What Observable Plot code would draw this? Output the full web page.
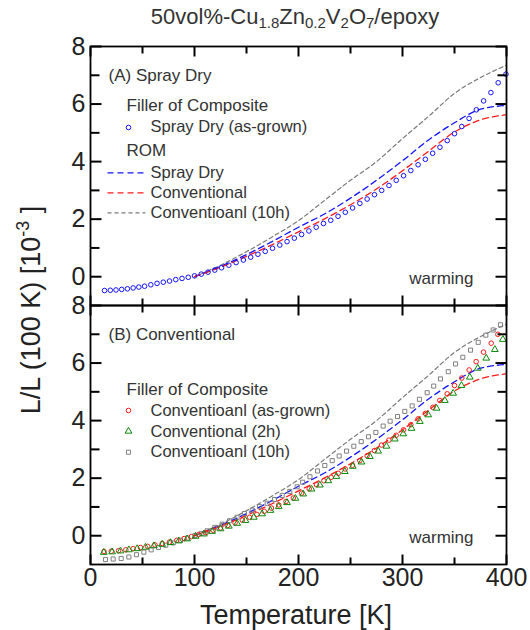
<!DOCTYPE html>
<html><head><meta charset="utf-8">
<script src="https://cdn.jsdelivr.net/npm/d3@7"></script>
<script src="https://cdn.jsdelivr.net/npm/@observablehq/plot@0.6"></script>
<style>body{margin:0;background:#fff} #chart{width:530px;height:630px}</style>
</head><body><div id="chart"></div>
<script>
// ---- data (T [K], ΔL/L(100K) [1e-3]) ----
const sprayDryAsGrown = [[13.5,-0.48],[19,-0.47],[24.5,-0.46],[30,-0.44],[35.5,-0.42],[41,-0.39],[46.5,-0.36],[52,-0.33],[58,-0.28],[64,-0.23],[70,-0.19],[76,-0.15],[82,-0.10],[88,-0.06],[94,-0.02],[100,0.03],[106.5,0.09],[113,0.16],[119.5,0.23],[126,0.31],[133,0.40],[140,0.49],[147,0.58],[154,0.68],[161,0.78],[168,0.88],[175,0.99],[182,1.10],[189,1.22],[196,1.34],[203,1.47],[210,1.59],[217,1.72],[224,1.85],[231,1.96],[238,2.10],[245,2.24],[252,2.39],[259,2.55],[266,2.70],[273,2.85],[280,3.00],[287,3.17],[294,3.35],[301,3.51],[308,3.69],[315,3.89],[322,4.08],[329,4.29],[336,4.50],[343,4.73],[350,4.97],[357,5.22],[364,5.50],[371,5.80],[378,6.11],[385,6.40],[392,6.74],[399.5,7.04]];
const convAsGrown = [[13,-0.55],[20,-0.54],[27,-0.52],[34,-0.49],[41,-0.45],[48,-0.41],[55,-0.37],[62,-0.32],[69,-0.27],[76,-0.22],[83,-0.16],[90,-0.10],[97,-0.03],[104,0.04],[111,0.11],[118,0.19],[125,0.27],[132,0.36],[139,0.45],[146,0.54],[153,0.64],[160,0.74],[167,0.85],[174,0.96],[181,1.07],[188,1.19],[195,1.31],[203,1.48],[210.3,1.63],[217.3,1.77],[224.4,1.91],[231.4,2.03],[238.2,2.17],[244.9,2.32],[251.9,2.45],[259,2.61],[266,2.78],[273,2.96],[279.8,3.15],[286.9,3.32],[293.9,3.49],[301,3.68],[308,3.86],[315,4.06],[322.1,4.25],[329.2,4.46],[335.9,4.70],[343,4.93],[350,5.22],[357,5.48],[364.1,5.76],[370.8,6.05],[377.9,6.38],[385.3,6.69],[391.7,7.00]];
const conv2h = [[12.8,-0.58],[20.8,-0.56],[28.8,-0.53],[36.9,-0.49],[44.9,-0.45],[52.9,-0.40],[60.9,-0.35],[68.9,-0.30],[76.9,-0.24],[84.9,-0.18],[92.9,-0.11],[101,-0.02],[109,0.06],[117,0.15],[125,0.24],[133,0.33],[141,0.43],[149,0.53],[157,0.64],[165,0.76],[173,0.88],[181,1.01],[189,1.15],[197,1.30],[204.5,1.45],[212.5,1.62],[220.5,1.76],[228.6,1.91],[236.5,2.06],[244.5,2.23],[252.2,2.41],[260.6,2.56],[268.6,2.75],[276.6,2.94],[284.6,3.11],[292.6,3.36],[300.7,3.54],[308.7,3.73],[316.7,3.97],[324.7,4.20],[332.7,4.43],[340.7,4.70],[348.7,4.95],[356.7,5.22],[364.7,5.51],[372.4,5.82],[380.5,6.17],[388.8,6.47],[396.5,6.82]];
const conv10h = [[14.4,-0.83],[21.8,-0.81],[29.5,-0.79],[36.9,-0.74],[44.2,-0.66],[51.3,-0.57],[58.3,-0.49],[65.4,-0.41],[72.4,-0.33],[79.5,-0.25],[86.5,-0.16],[93.5,-0.08],[100.5,0.01],[106.5,0.08],[112.2,0.17],[119.5,0.29],[126.6,0.40],[133.7,0.52],[141,0.64],[148,0.77],[155.5,0.89],[162.5,1.01],[169.9,1.13],[176.9,1.26],[184.3,1.40],[191.6,1.54],[198.7,1.70],[204,1.86],[211,2.05],[218.3,2.25],[225.3,2.44],[232.4,2.61],[239.1,2.77],[246.2,2.94],[253.2,3.11],[260.3,3.27],[267.3,3.44],[274.4,3.59],[281.4,3.81],[288.1,3.98],[295.2,4.14],[302.2,4.32],[309.3,4.51],[316.3,4.74],[323.7,4.97],[330,5.20],[336.5,5.45],[344,5.70],[351,5.97],[358,6.20],[365.4,6.45],[372.8,6.72],[380.1,6.97],[387.2,7.15],[394.2,7.33]];
const romT = [100,125,150,175,200,225,250,275,300,325,350,375,400];
const romSprayDry = [0,0.36,0.77,1.23,1.72,2.18,2.73,3.35,4.03,4.75,5.35,5.82,5.95];
const romConventional = [0,0.33,0.71,1.12,1.56,2.01,2.50,3.05,3.68,4.36,5.03,5.45,5.63];
const romConventional10h = [0,0.40,0.87,1.39,1.95,2.65,3.35,4.00,4.80,5.57,6.37,6.92,7.35];
const xTickLabels = [0,100,200,300,400];
const xMinorTicks = [50,150,250,350];
const yTickLabels = [0,2,4,6,8];
const yMinorTicks = [1,3,5,7];
const panels = ["A","B"];
const panelTitles = ["(A) Spray Dry","(B) Conventional"];
const legendA = ["Filler of Composite","Spray Dry (as-grown)","ROM","Spray Dry","Conventional","Conventioanl (10h)"];
const legendB = ["Filler of Composite","Conventioanl (as-grown)","Conventional (2h)","Conventioanl (10h)"];
const noteText = "warming";

// ---- layout ----
const W = 530, H = 630, ML = 90, MR = 24, MT = 46, MB = 66;
const X_DOMAIN = [0, 400], Y_DOMAIN = [-1, 8];
const FONT = "'Liberation Sans', Arial, sans-serif";
const pts = (arr, panel) => arr.map(([T, v]) => ({T, v, panel}));
const romRows = (vals) => panels.flatMap(panel => romT.map((T, i) => ({T, v: vals[i], panel})));
const BLUE = "#1414ff", RED = "#ff1a1a", GRAY = "#7a7a7a", GREEN = "#0a8a0a", TXT = "#333";
const hline = {draw(ctx) { ctx.moveTo(-19, 0); ctx.lineTo(19, 0); }};

// tick lengths: pixels converted to data units from the layout
const kPerPx = (X_DOMAIN[1] - X_DOMAIN[0]) / (W - ML - MR);
const uPerPx = (Y_DOMAIN[1] - Y_DOMAIN[0]) / ((H - MT - MB) / 2);
const tickRows = panels.flatMap(panel => [
  ...[[yTickLabels, 11], [yMinorTicks, 9]].flatMap(([vals, len]) => vals.flatMap(v => [
    {panel, x1: X_DOMAIN[0], x2: X_DOMAIN[0] + len * kPerPx, y1: v, y2: v},
    {panel, x1: X_DOMAIN[1], x2: X_DOMAIN[1] - len * kPerPx, y1: v, y2: v}])),
  ...[[xTickLabels, 10], [xMinorTicks, 7]].flatMap(([vals, len]) => vals.flatMap(t => [
    {panel, x1: t, x2: t, y1: Y_DOMAIN[0], y2: Y_DOMAIN[0] + len * uPerPx},
    {panel, x1: t, x2: t, y1: Y_DOMAIN[1], y2: Y_DOMAIN[1] - len * uPerPx}]))
]);

const marks = [];
// data lines
marks.push(Plot.line(romRows(romConventional10h), {x:"T", y:"v", fy:"panel", stroke:GRAY, strokeWidth:1.2, strokeDasharray:"4,3", curve:"monotone-x"}));
marks.push(Plot.line(romRows(romSprayDry), {x:"T", y:"v", fy:"panel", stroke:BLUE, strokeWidth:1.3, strokeDasharray:"6,4", curve:"monotone-x"}));
marks.push(Plot.line(romRows(romConventional), {x:"T", y:"v", fy:"panel", stroke:RED, strokeWidth:1.3, strokeDasharray:"6,4", curve:"monotone-x"}));
// markers
marks.push(Plot.dot(pts(sprayDryAsGrown,"A"), {x:"T", y:"v", fy:"panel", r:2.3, symbol:"circle", stroke:BLUE, fill:"none", strokeWidth:1}));
marks.push(Plot.dot(pts(conv10h,"B"), {x:"T", y:"v", fy:"panel", r:2.3, symbol:"square", stroke:"#808080", fill:"none", strokeWidth:1}));
marks.push(Plot.dot(pts(convAsGrown,"B"), {x:"T", y:"v", fy:"panel", r:2.3, symbol:"circle", stroke:RED, fill:"none", strokeWidth:1}));
marks.push(Plot.dot(pts(conv2h,"B"), {x:"T", y:"v", fy:"panel", r:2.5, symbol:"triangle", stroke:GREEN, fill:"none", strokeWidth:1}));

marks.push(Plot.frame({stroke:"#000", strokeWidth:1.8}));
// inward ticks on all four sides of each panel
marks.push(Plot.link(tickRows, {x1:"x1", x2:"x2", y1:"y1", y2:"y2", fy:"panel", stroke:"#000", strokeWidth:2}));
// tick labels
marks.push(Plot.axisY(yTickLabels, {anchor:"left", tickSize:0, tickPadding:5, label:null, fontSize:25, fill:"#222", facetAnchor:null}));
marks.push(Plot.axisX(xTickLabels, {anchor:"bottom", tickSize:0, tickPadding:4, label:null, fontSize:25, fill:"#222"}));

// panel titles and notes
const LF = 16.5;
panels.forEach((p, i) => {
  marks.push(Plot.text([{panel:p, t:panelTitles[i]}], {fy:"panel", text:"t", frameAnchor:"top-left", dx:18, dy:29, textAnchor:"start", lineAnchor:"middle", fontSize:17, fill:TXT}));
  marks.push(Plot.text([{panel:p, t:noteText}], {fy:"panel", text:"t", frameAnchor:"bottom-right", dx:-33, dy:-26.5, textAnchor:"end", lineAnchor:"middle", fontSize:17, fill:TXT}));
});
const legText = (panel, t, dx, dy, fs = LF) => Plot.text([{panel, t}], {fy:"panel", text:"t", frameAnchor:"top-left", dx, dy, textAnchor:"start", lineAnchor:"middle", fontSize:fs, fill:TXT});
const legSym = (panel, dy, opts) => Plot.dot([{panel}], {fy:"panel", frameAnchor:"top-left", dx:38, dy, fill:"none", ...opts});
// legend A
marks.push(legText("A", legendA[0], 36, 59, 17));
marks.push(legSym("A", 81, {r:2.3, symbol:"circle", stroke:BLUE, strokeWidth:1}));
marks.push(legText("A", legendA[1], 60, 80.5));
marks.push(legText("A", legendA[2], 36, 104, 17));
[[BLUE,"6,4",1.3],[RED,"6,4",1.3],[GRAY,"4,3",1.2]].forEach(([c, da, sw], k) => {
  marks.push(Plot.dot([{panel:"A"}], {fy:"panel", frameAnchor:"top-left", dx:36, dy:126.3 + 20*k, symbol:hline, r:5, fill:"none", stroke:c, strokeWidth:sw, strokeDasharray:da}));
  marks.push(legText("A", legendA[3 + k], 60, 126 + 20*k));
});
// legend B
marks.push(legText("B", legendB[0], 36, 84, 17));
marks.push(legSym("B", 105, {r:2.3, symbol:"circle", stroke:RED, strokeWidth:1}));
marks.push(legSym("B", 125.7, {r:2.5, symbol:"triangle", stroke:GREEN, strokeWidth:1}));
marks.push(legSym("B", 146.7, {r:2.3, symbol:"square", stroke:"#808080", strokeWidth:1}));
legendB.slice(1).forEach((t, k) => marks.push(legText("B", t, 60, 105 + 20.8*k)));

const chart = Plot.plot({
  width: W, height: H,
  marginLeft: ML, marginRight: MR, marginTop: MT, marginBottom: MB,
  style: {fontFamily: FONT, background: "white", overflow: "visible"},
  x: {domain: X_DOMAIN},
  y: {domain: Y_DOMAIN},
  fy: {domain: panels, padding: 0, axis: null},
  marks
});
document.getElementById("chart").appendChild(chart);
const svg = d3.select(chart);

// title with subscripts
const title = svg.append("text").attr("x", 295).attr("y", 24).attr("text-anchor", "middle")
  .attr("font-family", FONT).attr("font-size", 22).attr("fill", TXT);
const parts = [["50vol%-Cu",0],["1.8",1],["Zn",0],["0.2",1],["V",0],["2",1],["O",0],["7",1],["/epoxy",0]];
let shifted = false;
parts.forEach(([s, sub]) => {
  const ts = title.append("tspan").text(s);
  if (sub) { ts.attr("font-size", 15); if (!shifted) { ts.attr("dy", 4); shifted = true; } }
  else { ts.attr("font-size", 22); if (shifted) { ts.attr("dy", -4); shifted = false; } }
});
// y label with superscript
const yl = svg.append("text").attr("transform", "translate(40,310) rotate(-90)").attr("text-anchor", "middle")
  .attr("font-family", FONT).attr("font-size", 27).attr("fill", "#222");
yl.append("tspan").text("L/L (100 K) [10");
yl.append("tspan").attr("font-size", 18).attr("dy", -11).text("-3");
yl.append("tspan").attr("dy", 11).text(" ]");
// x label
svg.append("text").attr("x", 296).attr("y", 624).attr("text-anchor", "middle")
  .attr("font-family", FONT).attr("font-size", 27).attr("fill", "#222").text("Temperature [K]");
</script>
</body></html>
